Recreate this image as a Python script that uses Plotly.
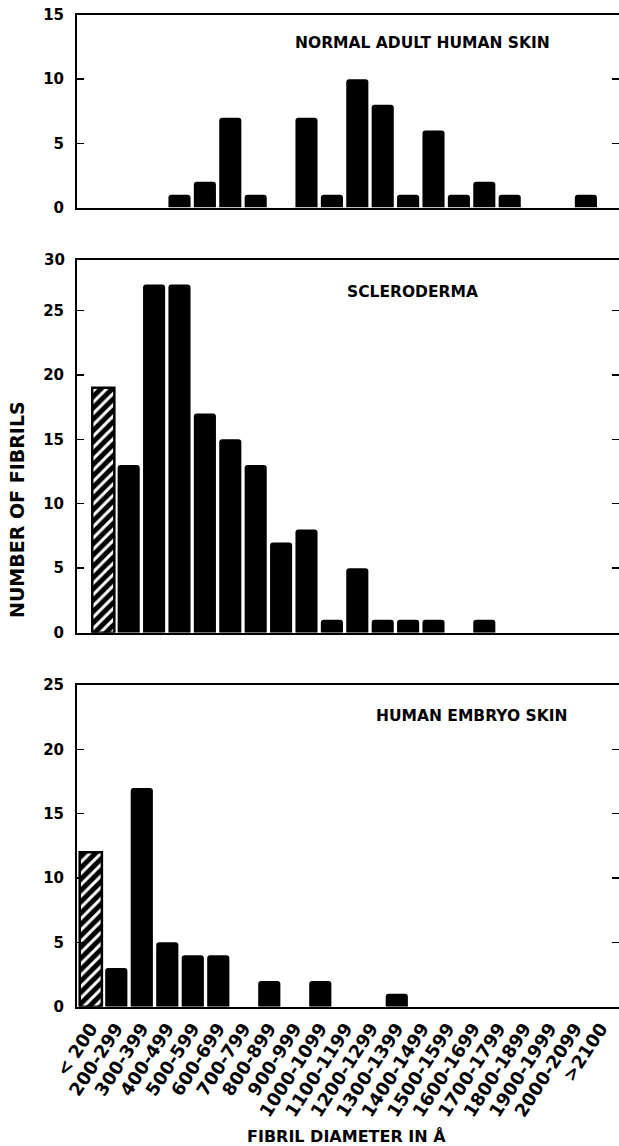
import plotly.graph_objects as go

# ---------------- data ----------------
categories = ["< 200", "200-299", "300-399", "400-499", "500-599", "600-699",
              "700-799", "800-899", "900-999", "1000-1099", "1100-1199",
              "1200-1299", "1300-1399", "1400-1499", "1500-1599", "1600-1699",
              "1700-1799", "1800-1899", "1900-1999", "2000-2099", ">2100"]
normal_adult = [0, 0, 0, 1, 2, 7, 1, 0, 7, 1, 10, 8, 1, 6, 1, 2, 1, 0, 0, 1, 0]
scleroderma = [19, 13, 27, 27, 17, 15, 13, 7, 8, 1, 5, 1, 1, 1, 0, 1, 0, 0, 0, 0, 0]
embryo = [12, 3, 17, 5, 4, 4, 0, 2, 0, 2, 0, 0, 1, 0, 0, 0, 0, 0, 0, 0, 0]
panel_titles = ["NORMAL ADULT HUMAN SKIN", "SCLERODERMA", "HUMAN EMBRYO SKIN"]
y_ticks = [[0, 5, 10, 15], [0, 5, 10, 15, 20, 25], [0, 5, 10, 15, 20, 25]]

W, H = 619, 1146
FONT = "DejaVu Sans"

# ---------------- layout geometry (pixels) ----------------
x_left = 77
y_dom_px = [(15, 207.5), (260, 632.7), (685, 1006.7)]
y_ranges = [[0, 15], [0, 28.9], [0, 25]]
x_ranges = [[-1.035, 20.303], [-1.035, 20.303], [-0.541, 20.714]]
title_pos = [(422, 42.5), (413, 292), (471, 715.5)]

fig = go.Figure()
series = [normal_adult, scleroderma, embryo]
idx = list(range(len(categories)))

for p, vals in enumerate(series):
    xa = "x" if p == 0 else f"x{p+1}"
    ya = "y" if p == 0 else f"y{p+1}"
    fig.add_trace(go.Bar(
        x=idx[1:], y=vals[1:], xaxis=xa, yaxis=ya, width=0.87,
        marker=dict(color="black", line=dict(width=0), cornerradius=3),
        showlegend=False, hoverinfo="skip"))
    if vals[0] > 0:
        fig.add_trace(go.Bar(
            x=idx[:1], y=vals[:1], xaxis=xa, yaxis=ya, width=0.87,
            marker=dict(color="black", line=dict(width=2.5, color="black"),
                        pattern=dict(shape="/", fgcolor="white", bgcolor="black",
                                     size=8, solidity=0.38)),
            showlegend=False, hoverinfo="skip"))
    # empty trace so the right-hand tick axis is drawn
    fig.add_trace(go.Scatter(x=[], y=[], xaxis=xa, yaxis=f"y{p+4}",
                             mode="markers", showlegend=False, hoverinfo="skip"))

layout = dict(
    width=W, height=H, template="none",
    margin=dict(l=0, r=0, t=0, b=0),
    paper_bgcolor="white", plot_bgcolor="white",
    barmode="overlay", showlegend=False,
    font=dict(family=FONT, color="black"),
)

tickfont = dict(family=FONT, size=15, color="black", weight="bold")
annotations = []
for p in range(3):
    sfx = "" if p == 0 else str(p + 1)
    top_px, bot_px = y_dom_px[p]
    ydom = [1 - bot_px / H, 1 - top_px / H]
    xax = dict(domain=[x_left / W, 1], range=x_ranges[p], anchor="y" + sfx,
               showline=True, mirror=True, linewidth=2, linecolor="black",
               showgrid=False, zeroline=False, ticks="", automargin=False)
    if p == 2:
        xax.update(tickmode="array", tickvals=idx, ticktext=categories,
                   tickangle=-57, showticklabels=True,
                   tickfont=dict(family=FONT, size=18, color="black", weight="bold"),
                   ticklabelstandoff=2)
    else:
        xax.update(showticklabels=False)
    layout["xaxis" + sfx] = xax
    layout["yaxis" + sfx] = dict(
        domain=ydom, range=y_ranges[p], anchor="x" + sfx,
        tickmode="array", tickvals=y_ticks[p],
        ticks="inside", ticklen=7, tickwidth=1.5, tickcolor="black",
        showline=True, linewidth=2, linecolor="black",
        showgrid=False, zeroline=False, tickfont=tickfont,
        ticklabelstandoff=8, automargin=False)
    # right-hand tick marks
    layout[f"yaxis{p+4}"] = dict(
        overlaying="y" + sfx, side="right", anchor="x" + sfx,
        range=y_ranges[p], tickmode="array", tickvals=y_ticks[p][1:],
        ticks="inside", ticklen=7, tickwidth=1.5, tickcolor="black",
        showline=False, showgrid=False, zeroline=False,
        showticklabels=False, automargin=False)
    tx, ty = title_pos[p]
    annotations.append(dict(
        text=panel_titles[p], x=tx / W, y=1 - ty / H, xref="paper", yref="paper",
        xanchor="center", yanchor="middle", showarrow=False,
        font=dict(family=FONT, size=15.5, color="black", weight="bold")))

# "30" at the top of the scleroderma axis
annotations.append(dict(
    text="30", x=67 / W, y=1, xref="paper", yref="y2 domain",
    xanchor="right", yanchor="middle", showarrow=False, font=tickfont))
# axis titles
annotations.append(dict(
    text="NUMBER OF FIBRILS", x=17 / W, y=1 - 510 / H, xref="paper", yref="paper",
    xanchor="center", yanchor="middle", textangle=-90, showarrow=False,
    font=dict(family=FONT, size=19, color="black", weight="bold")))
annotations.append(dict(
    text="FIBRIL DIAMETER IN Å", x=346 / W, y=1 - 1136 / H, xref="paper", yref="paper",
    xanchor="center", yanchor="middle", showarrow=False,
    font=dict(family=FONT, size=16, color="black", weight="bold")))
layout["annotations"] = annotations

fig.update_layout(**layout)
fig.write_html("out.html",
               config={"displayModeBar": False, "staticPlot": True},
               post_script="document.body.style.margin='0';"
                           "document.documentElement.style.overflow='hidden';")
